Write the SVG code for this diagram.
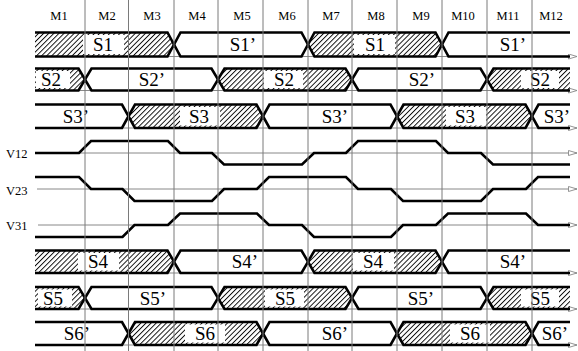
<svg xmlns="http://www.w3.org/2000/svg" width="578" height="351" viewBox="0 0 578 351">
<style>
.bg{fill:#fff}
.hat{fill:url(#hatch);stroke:none}
.sig{fill:none;stroke:#000;stroke-width:2.6;stroke-linejoin:miter;stroke-miterlimit:10}
.ax{fill:none;stroke:#888;stroke-width:1;marker-end:url(#arr)}
.grid{stroke:#7a7a7a;stroke-width:1}
.lb{fill:#fff}
.t{font-family:"Liberation Serif","Times New Roman",serif;fill:#000}
.big{font-size:19px;text-anchor:middle}
.hd{font-size:12.5px;text-anchor:middle}
.vl{font-size:12.5px}
</style>
<defs>
<pattern id="hatch" patternUnits="userSpaceOnUse" width="3.6" height="3.6" patternTransform="rotate(45)">
<line x1="0.5" y1="0" x2="0.5" y2="3.6" stroke="#000" stroke-width="0.9"/>
</pattern>
<marker id="arr" markerWidth="10" markerHeight="6" refX="9" refY="3" orient="auto" markerUnits="userSpaceOnUse">
<path d="M0.5,0.5 L9,3 L0.5,5.5 Z" fill="#fff" stroke="#888" stroke-width="0.9"/>
</marker>
</defs>
<rect class="bg" x="0" y="0" width="578" height="351"/>

<g id="header">
<text class="t hd" x="59" y="19.5">M1</text>
<text class="t hd" x="107" y="19.5">M2</text>
<text class="t hd" x="152" y="19.5">M3</text>
<text class="t hd" x="197" y="19.5">M4</text>
<text class="t hd" x="242" y="19.5">M5</text>
<text class="t hd" x="287" y="19.5">M6</text>
<text class="t hd" x="331" y="19.5">M7</text>
<text class="t hd" x="376" y="19.5">M8</text>
<text class="t hd" x="421" y="19.5">M9</text>
<text class="t hd" x="463" y="19.5">M10</text>
<text class="t hd" x="508" y="19.5">M11</text>
<text class="t hd" x="551" y="19.5">M12</text>
</g>

<g id="connectors">
<line class="ax" x1="35" y1="56.5" x2="577" y2="56.5"/>
<line class="ax" x1="35" y1="90.5" x2="577" y2="90.5"/>
<line class="ax" x1="35" y1="128" x2="577" y2="128"/>
<line class="ax" x1="35" y1="153" x2="577" y2="153"/>
<line class="ax" x1="37" y1="189" x2="577" y2="189"/>
<line class="ax" x1="38" y1="225" x2="577" y2="225"/>
<line class="ax" x1="35" y1="273" x2="577" y2="273"/>
<line class="ax" x1="35" y1="309" x2="577" y2="309"/>
<line class="ax" x1="35" y1="345" x2="577" y2="345"/>
</g>

<g id="S1">
<polygon class="hat" points="35,32.5 167.5,32.5 174,44.5 167.5,56.5 35,56.5"/>
<polygon class="hat" points="308,44.5 314.5,32.5 435.5,32.5 442,44.5 435.5,56.5 314.5,56.5"/>
<path class="sig" d="M35,32.5 H167.5 L174,44.5 L180.5,32.5 H301.5 L308,44.5 L314.5,32.5 H435.5 L442,44.5 L448.5,32.5 H570"/>
<path class="sig" d="M35,56.5 H167.5 L174,44.5 L180.5,56.5 H301.5 L308,44.5 L314.5,56.5 H435.5 L442,44.5 L448.5,56.5 H570"/>
<rect class="lb" x="83" y="35" width="41" height="19"/>
<rect class="lb" x="354" y="35" width="41" height="19"/>
<text class="t big" x="103" y="51">S1</text>
<text class="t big" x="243" y="51">S1’</text>
<text class="t big" x="375" y="51">S1</text>
<text class="t big" x="513" y="51">S1’</text>
</g>

<g id="S2">
<polygon class="hat" points="35,68.5 78.5,68.5 85,79.5 78.5,90.5 35,90.5"/>
<polygon class="hat" points="218,79.5 224.5,68.5 345.5,68.5 352,79.5 345.5,90.5 224.5,90.5"/>
<polygon class="hat" points="487,79.5 493.5,68.5 570,68.5 570,90.5 493.5,90.5"/>
<path class="sig" d="M35,68.5 H78.5 L85,79.5 L91.5,68.5 H211.5 L218,79.5 L224.5,68.5 H345.5 L352,79.5 L358.5,68.5 H480.5 L487,79.5 L493.5,68.5 H570"/>
<path class="sig" d="M35,90.5 H78.5 L85,79.5 L91.5,90.5 H211.5 L218,79.5 L224.5,90.5 H345.5 L352,79.5 L358.5,90.5 H480.5 L487,79.5 L493.5,90.5 H570"/>
<rect class="lb" x="36" y="71" width="34" height="17"/>
<rect class="lb" x="264" y="71" width="39" height="17"/>
<rect class="lb" x="521" y="71" width="38" height="17"/>
<text class="t big" x="51" y="86">S2</text>
<text class="t big" x="152" y="86">S2’</text>
<text class="t big" x="284" y="86">S2</text>
<text class="t big" x="422" y="86">S2’</text>
<text class="t big" x="540" y="86">S2</text>
</g>

<g id="S3">
<polygon class="hat" points="128.5,116.25 135,104.5 256.5,104.5 263,116.25 256.5,128 135,128"/>
<polygon class="hat" points="397,116.25 403.5,104.5 525.5,104.5 532,116.25 525.5,128 403.5,128"/>
<path class="sig" d="M35,104.5 H122 L128.5,116.25 L135,104.5 H256.5 L263,116.25 L269.5,104.5 H390.5 L397,116.25 L403.5,104.5 H525.5 L532,116.25 L538.5,104.5 H570"/>
<path class="sig" d="M35,128 H122 L128.5,116.25 L135,128 H256.5 L263,116.25 L269.5,128 H390.5 L397,116.25 L403.5,128 H525.5 L532,116.25 L538.5,128 H570"/>
<rect class="lb" x="180" y="107" width="40" height="18.5"/>
<rect class="lb" x="446" y="107" width="40" height="18.5"/>
<text class="t big" x="76" y="123">S3’</text>
<text class="t big" x="199" y="123">S3</text>
<text class="t big" x="335" y="123">S3’</text>
<text class="t big" x="465" y="123">S3</text>
<text class="t big" x="557" y="123">S3’</text>
</g>

<g id="V12">
<text class="t vl" x="6" y="157.5">V12</text>
<path class="sig" d="M35,153 H79 L91,141 H168 L180,153 H212 L224,164.5 H302 L314,153 H346 L358,141 H436 L448,153 H481 L493,164.5 H570"/>
</g>

<g id="V23">
<text class="t vl" x="6" y="195">V23</text>
<path class="sig" d="M35,177 H79 L91,189 H122.5 L134.5,201 H212 L224,189 H257 L269,177 H346 L358,189 H391 L403,201 H481 L493,189 H526 L538,177 H570"/>
</g>

<g id="V31">
<text class="t vl" x="6" y="229.5">V31</text>
<path class="sig" d="M35,237 H122.5 L134.5,225 H168 L180,213.5 H257 L269,225 H302 L314,237 H391 L403,225 H436 L448,213.5 H526 L538,225 H570"/>
</g>

<g id="S4">
<polygon class="hat" points="35,250.5 167.5,250.5 174,261.75 167.5,273 35,273"/>
<polygon class="hat" points="308,261.75 314.5,250.5 435.5,250.5 442,261.75 435.5,273 314.5,273"/>
<path class="sig" d="M35,250.5 H167.5 L174,261.75 L180.5,250.5 H301.5 L308,261.75 L314.5,250.5 H435.5 L442,261.75 L448.5,250.5 H570"/>
<path class="sig" d="M35,273 H167.5 L174,261.75 L180.5,273 H301.5 L308,261.75 L314.5,273 H435.5 L442,261.75 L448.5,273 H570"/>
<rect class="lb" x="78" y="253" width="41" height="17.5"/>
<rect class="lb" x="353" y="253" width="41" height="17.5"/>
<text class="t big" x="98" y="268">S4</text>
<text class="t big" x="245" y="268">S4’</text>
<text class="t big" x="373" y="268">S4</text>
<text class="t big" x="513" y="268">S4’</text>
</g>

<g id="S5">
<polygon class="hat" points="35,287 78.5,287 85,298 78.5,309 35,309"/>
<polygon class="hat" points="218,298 224.5,287 345.5,287 352,298 345.5,309 224.5,309"/>
<polygon class="hat" points="487,298 493.5,287 570,287 570,309 493.5,309"/>
<path class="sig" d="M35,287 H78.5 L85,298 L91.5,287 H211.5 L218,298 L224.5,287 H345.5 L352,298 L358.5,287 H480.5 L487,298 L493.5,287 H570"/>
<path class="sig" d="M35,309 H78.5 L85,298 L91.5,309 H211.5 L218,298 L224.5,309 H345.5 L352,298 L358.5,309 H480.5 L487,298 L493.5,309 H570"/>
<rect class="lb" x="38" y="289.5" width="34" height="17"/>
<rect class="lb" x="265" y="289.5" width="39" height="17"/>
<rect class="lb" x="521" y="289.5" width="38" height="17"/>
<text class="t big" x="53" y="304.5">S5</text>
<text class="t big" x="153" y="304.5">S5’</text>
<text class="t big" x="285" y="304.5">S5</text>
<text class="t big" x="421" y="304.5">S5’</text>
<text class="t big" x="540" y="304.5">S5</text>
</g>

<g id="S6">
<polygon class="hat" points="128.5,333.5 135,322 256.5,322 263,333.5 256.5,345 135,345"/>
<polygon class="hat" points="397,333.5 403.5,322 525.5,322 532,333.5 525.5,345 403.5,345"/>
<path class="sig" d="M35,322 H122 L128.5,333.5 L135,322 H256.5 L263,333.5 L269.5,322 H390.5 L397,333.5 L403.5,322 H525.5 L532,333.5 L538.5,322 H570"/>
<path class="sig" d="M35,345 H122 L128.5,333.5 L135,345 H256.5 L263,333.5 L269.5,345 H390.5 L397,333.5 L403.5,345 H525.5 L532,333.5 L538.5,345 H570"/>
<rect class="lb" x="185" y="324.5" width="40" height="18"/>
<rect class="lb" x="450" y="324.5" width="40" height="18"/>
<text class="t big" x="77" y="340">S6’</text>
<text class="t big" x="205" y="340">S6</text>
<text class="t big" x="335" y="340">S6’</text>
<text class="t big" x="470" y="340">S6</text>
<text class="t big" x="555" y="340">S6’</text>
</g>

<g id="grid">
<line class="grid" x1="85" y1="0" x2="85" y2="351"/>
<line class="grid" x1="128.5" y1="0" x2="128.5" y2="351"/>
<line class="grid" x1="174" y1="0" x2="174" y2="351"/>
<line class="grid" x1="218" y1="0" x2="218" y2="351"/>
<line class="grid" x1="263" y1="0" x2="263" y2="351"/>
<line class="grid" x1="308" y1="0" x2="308" y2="351"/>
<line class="grid" x1="352" y1="0" x2="352" y2="351"/>
<line class="grid" x1="397" y1="0" x2="397" y2="351"/>
<line class="grid" x1="442" y1="0" x2="442" y2="351"/>
<line class="grid" x1="487" y1="0" x2="487" y2="351"/>
<line class="grid" x1="532" y1="0" x2="532" y2="351"/>
</g>
</svg>
